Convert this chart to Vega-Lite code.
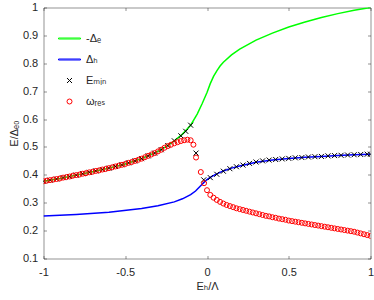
{
  "$schema": "https://vega.github.io/schema/vega-lite/v6.json",
  "width": 327,
  "height": 251,
  "autosize": "none",
  "padding": {"left": 43.5, "top": 7.5, "right": 3.5, "bottom": 41.5},
  "config": {
    "font": "Liberation Sans, DejaVu Sans",
    "view": {"stroke": null},
    "axis": {
      "domainColor": "#262626",
      "domainWidth": 0.5,
      "tickColor": "#262626",
      "tickWidth": 0.5,
      "tickSize": -3,
      "grid": false,
      "labelColor": "#262626",
      "labelFontSize": 11,
      "labelFont": "Liberation Sans, DejaVu Sans",
      "titleColor": "#262626",
      "titleFontSize": 11,
      "titleFontWeight": "normal",
      "titleFont": "Liberation Sans, DejaVu Sans"
    },
    "legend": {
      "orient": "none",
      "legendX": 20.5,
      "legendY": 25.5,
      "padding": 0,
      "symbolSize": 25,
      "symbolStrokeWidth": 1,
      "labelFontSize": 11,
      "labelFont": "Liberation Sans, DejaVu Sans",
      "labelColor": "#262626",
      "labelOffset": 11,
      "rowPadding": 9,
      "title": null
    }
  },
  "datasets": {
    "curves": [
      {"series": "-Δₑ", "x": -1, "y": 0.377},
      {"series": "-Δₑ", "x": -0.9, "y": 0.387},
      {"series": "-Δₑ", "x": -0.8, "y": 0.399},
      {"series": "-Δₑ", "x": -0.7, "y": 0.411},
      {"series": "-Δₑ", "x": -0.6, "y": 0.424},
      {"series": "-Δₑ", "x": -0.5, "y": 0.439},
      {"series": "-Δₑ", "x": -0.4, "y": 0.458},
      {"series": "-Δₑ", "x": -0.3, "y": 0.484},
      {"series": "-Δₑ", "x": -0.25, "y": 0.501},
      {"series": "-Δₑ", "x": -0.2, "y": 0.522},
      {"series": "-Δₑ", "x": -0.15, "y": 0.546},
      {"series": "-Δₑ", "x": -0.1, "y": 0.578},
      {"series": "-Δₑ", "x": -0.06, "y": 0.618},
      {"series": "-Δₑ", "x": -0.03, "y": 0.655},
      {"series": "-Δₑ", "x": 0, "y": 0.695},
      {"series": "-Δₑ", "x": 0.02, "y": 0.727},
      {"series": "-Δₑ", "x": 0.04, "y": 0.753},
      {"series": "-Δₑ", "x": 0.06, "y": 0.773},
      {"series": "-Δₑ", "x": 0.08, "y": 0.79},
      {"series": "-Δₑ", "x": 0.1, "y": 0.804},
      {"series": "-Δₑ", "x": 0.15, "y": 0.83},
      {"series": "-Δₑ", "x": 0.2, "y": 0.851},
      {"series": "-Δₑ", "x": 0.3, "y": 0.883},
      {"series": "-Δₑ", "x": 0.4, "y": 0.908},
      {"series": "-Δₑ", "x": 0.5, "y": 0.93},
      {"series": "-Δₑ", "x": 0.6, "y": 0.948},
      {"series": "-Δₑ", "x": 0.7, "y": 0.964},
      {"series": "-Δₑ", "x": 0.8, "y": 0.978},
      {"series": "-Δₑ", "x": 0.9, "y": 0.99},
      {"series": "-Δₑ", "x": 1, "y": 1.0},
      {"series": "Δₕ", "x": -1, "y": 0.252},
      {"series": "Δₕ", "x": -0.8, "y": 0.258},
      {"series": "Δₕ", "x": -0.6, "y": 0.266},
      {"series": "Δₕ", "x": -0.4, "y": 0.279},
      {"series": "Δₕ", "x": -0.3, "y": 0.289},
      {"series": "Δₕ", "x": -0.2, "y": 0.303},
      {"series": "Δₕ", "x": -0.15, "y": 0.314},
      {"series": "Δₕ", "x": -0.1, "y": 0.329},
      {"series": "Δₕ", "x": -0.07, "y": 0.342},
      {"series": "Δₕ", "x": -0.04, "y": 0.36},
      {"series": "Δₕ", "x": -0.02, "y": 0.372},
      {"series": "Δₕ", "x": 0, "y": 0.383},
      {"series": "Δₕ", "x": 0.02, "y": 0.391},
      {"series": "Δₕ", "x": 0.05, "y": 0.401},
      {"series": "Δₕ", "x": 0.1, "y": 0.414},
      {"series": "Δₕ", "x": 0.15, "y": 0.424},
      {"series": "Δₕ", "x": 0.2, "y": 0.432},
      {"series": "Δₕ", "x": 0.3, "y": 0.445},
      {"series": "Δₕ", "x": 0.4, "y": 0.453},
      {"series": "Δₕ", "x": 0.5, "y": 0.459},
      {"series": "Δₕ", "x": 0.6, "y": 0.463},
      {"series": "Δₕ", "x": 0.7, "y": 0.466},
      {"series": "Δₕ", "x": 0.8, "y": 0.469},
      {"series": "Δₕ", "x": 0.9, "y": 0.472},
      {"series": "Δₕ", "x": 1, "y": 0.474}
    ],
    "markers": [
      {"series": "Eₘᵢₙ", "x": -1, "y": 0.377},
      {"series": "Eₘᵢₙ", "x": -0.96, "y": 0.381},
      {"series": "Eₘᵢₙ", "x": -0.92, "y": 0.385},
      {"series": "Eₘᵢₙ", "x": -0.88, "y": 0.39},
      {"series": "Eₘᵢₙ", "x": -0.84, "y": 0.394},
      {"series": "Eₘᵢₙ", "x": -0.8, "y": 0.399},
      {"series": "Eₘᵢₙ", "x": -0.76, "y": 0.404},
      {"series": "Eₘᵢₙ", "x": -0.72, "y": 0.409},
      {"series": "Eₘᵢₙ", "x": -0.68, "y": 0.414},
      {"series": "Eₘᵢₙ", "x": -0.64, "y": 0.419},
      {"series": "Eₘᵢₙ", "x": -0.6, "y": 0.424},
      {"series": "Eₘᵢₙ", "x": -0.56, "y": 0.43},
      {"series": "Eₘᵢₙ", "x": -0.52, "y": 0.436},
      {"series": "Eₘᵢₙ", "x": -0.48, "y": 0.443},
      {"series": "Eₘᵢₙ", "x": -0.44, "y": 0.45},
      {"series": "Eₘᵢₙ", "x": -0.4, "y": 0.458},
      {"series": "Eₘᵢₙ", "x": -0.36, "y": 0.468},
      {"series": "Eₘᵢₙ", "x": -0.32, "y": 0.478},
      {"series": "Eₘᵢₙ", "x": -0.28, "y": 0.49},
      {"series": "Eₘᵢₙ", "x": -0.24, "y": 0.505},
      {"series": "Eₘᵢₙ", "x": -0.2, "y": 0.522},
      {"series": "Eₘᵢₙ", "x": -0.16, "y": 0.54},
      {"series": "Eₘᵢₙ", "x": -0.13, "y": 0.556},
      {"series": "Eₘᵢₙ", "x": -0.1, "y": 0.578},
      {"series": "Eₘᵢₙ", "x": -0.067, "y": 0.478},
      {"series": "Eₘᵢₙ", "x": -0.02, "y": 0.382},
      {"series": "Eₘᵢₙ", "x": 0.02, "y": 0.39},
      {"series": "Eₘᵢₙ", "x": 0.06, "y": 0.402},
      {"series": "Eₘᵢₙ", "x": 0.1, "y": 0.413},
      {"series": "Eₘᵢₙ", "x": 0.14, "y": 0.422},
      {"series": "Eₘᵢₙ", "x": 0.18, "y": 0.429},
      {"series": "Eₘᵢₙ", "x": 0.22, "y": 0.435},
      {"series": "Eₘᵢₙ", "x": 0.26, "y": 0.441},
      {"series": "Eₘᵢₙ", "x": 0.3, "y": 0.446},
      {"series": "Eₘᵢₙ", "x": 0.34, "y": 0.45},
      {"series": "Eₘᵢₙ", "x": 0.38, "y": 0.453},
      {"series": "Eₘᵢₙ", "x": 0.42, "y": 0.455},
      {"series": "Eₘᵢₙ", "x": 0.46, "y": 0.457},
      {"series": "Eₘᵢₙ", "x": 0.5, "y": 0.459},
      {"series": "Eₘᵢₙ", "x": 0.54, "y": 0.461},
      {"series": "Eₘᵢₙ", "x": 0.58, "y": 0.462},
      {"series": "Eₘᵢₙ", "x": 0.62, "y": 0.464},
      {"series": "Eₘᵢₙ", "x": 0.66, "y": 0.465},
      {"series": "Eₘᵢₙ", "x": 0.7, "y": 0.466},
      {"series": "Eₘᵢₙ", "x": 0.74, "y": 0.468},
      {"series": "Eₘᵢₙ", "x": 0.78, "y": 0.469},
      {"series": "Eₘᵢₙ", "x": 0.82, "y": 0.47},
      {"series": "Eₘᵢₙ", "x": 0.86, "y": 0.471},
      {"series": "Eₘᵢₙ", "x": 0.9, "y": 0.472},
      {"series": "Eₘᵢₙ", "x": 0.94, "y": 0.473},
      {"series": "Eₘᵢₙ", "x": 0.98, "y": 0.474},
      {"series": "Eₘᵢₙ", "x": 1, "y": 0.474},
      {"series": "ωᵣₑₛ", "x": -1, "y": 0.377},
      {"series": "ωᵣₑₛ", "x": -0.98, "y": 0.379},
      {"series": "ωᵣₑₛ", "x": -0.96, "y": 0.381},
      {"series": "ωᵣₑₛ", "x": -0.94, "y": 0.383},
      {"series": "ωᵣₑₛ", "x": -0.92, "y": 0.385},
      {"series": "ωᵣₑₛ", "x": -0.9, "y": 0.387},
      {"series": "ωᵣₑₛ", "x": -0.88, "y": 0.39},
      {"series": "ωᵣₑₛ", "x": -0.86, "y": 0.392},
      {"series": "ωᵣₑₛ", "x": -0.84, "y": 0.394},
      {"series": "ωᵣₑₛ", "x": -0.82, "y": 0.397},
      {"series": "ωᵣₑₛ", "x": -0.8, "y": 0.399},
      {"series": "ωᵣₑₛ", "x": -0.78, "y": 0.401},
      {"series": "ωᵣₑₛ", "x": -0.76, "y": 0.404},
      {"series": "ωᵣₑₛ", "x": -0.74, "y": 0.406},
      {"series": "ωᵣₑₛ", "x": -0.72, "y": 0.409},
      {"series": "ωᵣₑₛ", "x": -0.7, "y": 0.411},
      {"series": "ωᵣₑₛ", "x": -0.68, "y": 0.414},
      {"series": "ωᵣₑₛ", "x": -0.66, "y": 0.416},
      {"series": "ωᵣₑₛ", "x": -0.64, "y": 0.419},
      {"series": "ωᵣₑₛ", "x": -0.62, "y": 0.421},
      {"series": "ωᵣₑₛ", "x": -0.6, "y": 0.424},
      {"series": "ωᵣₑₛ", "x": -0.58, "y": 0.427},
      {"series": "ωᵣₑₛ", "x": -0.56, "y": 0.43},
      {"series": "ωᵣₑₛ", "x": -0.54, "y": 0.433},
      {"series": "ωᵣₑₛ", "x": -0.52, "y": 0.436},
      {"series": "ωᵣₑₛ", "x": -0.5, "y": 0.439},
      {"series": "ωᵣₑₛ", "x": -0.48, "y": 0.443},
      {"series": "ωᵣₑₛ", "x": -0.46, "y": 0.446},
      {"series": "ωᵣₑₛ", "x": -0.44, "y": 0.45},
      {"series": "ωᵣₑₛ", "x": -0.42, "y": 0.454},
      {"series": "ωᵣₑₛ", "x": -0.4, "y": 0.458},
      {"series": "ωᵣₑₛ", "x": -0.38, "y": 0.463},
      {"series": "ωᵣₑₛ", "x": -0.36, "y": 0.468},
      {"series": "ωᵣₑₛ", "x": -0.34, "y": 0.473},
      {"series": "ωᵣₑₛ", "x": -0.32, "y": 0.478},
      {"series": "ωᵣₑₛ", "x": -0.3, "y": 0.484},
      {"series": "ωᵣₑₛ", "x": -0.28, "y": 0.49},
      {"series": "ωᵣₑₛ", "x": -0.26, "y": 0.497},
      {"series": "ωᵣₑₛ", "x": -0.24, "y": 0.503},
      {"series": "ωᵣₑₛ", "x": -0.22, "y": 0.508},
      {"series": "ωᵣₑₛ", "x": -0.2, "y": 0.513},
      {"series": "ωᵣₑₛ", "x": -0.18, "y": 0.517},
      {"series": "ωᵣₑₛ", "x": -0.16, "y": 0.521},
      {"series": "ωᵣₑₛ", "x": -0.14, "y": 0.524},
      {"series": "ωᵣₑₛ", "x": -0.12, "y": 0.526},
      {"series": "ωᵣₑₛ", "x": -0.1, "y": 0.524},
      {"series": "ωᵣₑₛ", "x": -0.083, "y": 0.508},
      {"series": "ωᵣₑₛ", "x": -0.067, "y": 0.462},
      {"series": "ωᵣₑₛ", "x": -0.038, "y": 0.41},
      {"series": "ωᵣₑₛ", "x": -0.018, "y": 0.37},
      {"series": "ωᵣₑₛ", "x": 0, "y": 0.345},
      {"series": "ωᵣₑₛ", "x": 0.02, "y": 0.328},
      {"series": "ωᵣₑₛ", "x": 0.04, "y": 0.318},
      {"series": "ωᵣₑₛ", "x": 0.06, "y": 0.31},
      {"series": "ωᵣₑₛ", "x": 0.08, "y": 0.303},
      {"series": "ωᵣₑₛ", "x": 0.1, "y": 0.297},
      {"series": "ωᵣₑₛ", "x": 0.12, "y": 0.292},
      {"series": "ωᵣₑₛ", "x": 0.14, "y": 0.288},
      {"series": "ωᵣₑₛ", "x": 0.16, "y": 0.284},
      {"series": "ωᵣₑₛ", "x": 0.18, "y": 0.28},
      {"series": "ωᵣₑₛ", "x": 0.2, "y": 0.277},
      {"series": "ωᵣₑₛ", "x": 0.22, "y": 0.274},
      {"series": "ωᵣₑₛ", "x": 0.24, "y": 0.271},
      {"series": "ωᵣₑₛ", "x": 0.26, "y": 0.268},
      {"series": "ωᵣₑₛ", "x": 0.28, "y": 0.265},
      {"series": "ωᵣₑₛ", "x": 0.3, "y": 0.262},
      {"series": "ωᵣₑₛ", "x": 0.32, "y": 0.259},
      {"series": "ωᵣₑₛ", "x": 0.34, "y": 0.256},
      {"series": "ωᵣₑₛ", "x": 0.36, "y": 0.253},
      {"series": "ωᵣₑₛ", "x": 0.38, "y": 0.251},
      {"series": "ωᵣₑₛ", "x": 0.4, "y": 0.248},
      {"series": "ωᵣₑₛ", "x": 0.42, "y": 0.246},
      {"series": "ωᵣₑₛ", "x": 0.44, "y": 0.243},
      {"series": "ωᵣₑₛ", "x": 0.46, "y": 0.241},
      {"series": "ωᵣₑₛ", "x": 0.48, "y": 0.239},
      {"series": "ωᵣₑₛ", "x": 0.5, "y": 0.236},
      {"series": "ωᵣₑₛ", "x": 0.52, "y": 0.234},
      {"series": "ωᵣₑₛ", "x": 0.54, "y": 0.232},
      {"series": "ωᵣₑₛ", "x": 0.56, "y": 0.23},
      {"series": "ωᵣₑₛ", "x": 0.58, "y": 0.228},
      {"series": "ωᵣₑₛ", "x": 0.6, "y": 0.226},
      {"series": "ωᵣₑₛ", "x": 0.62, "y": 0.224},
      {"series": "ωᵣₑₛ", "x": 0.64, "y": 0.222},
      {"series": "ωᵣₑₛ", "x": 0.66, "y": 0.22},
      {"series": "ωᵣₑₛ", "x": 0.68, "y": 0.218},
      {"series": "ωᵣₑₛ", "x": 0.7, "y": 0.216},
      {"series": "ωᵣₑₛ", "x": 0.72, "y": 0.214},
      {"series": "ωᵣₑₛ", "x": 0.74, "y": 0.212},
      {"series": "ωᵣₑₛ", "x": 0.76, "y": 0.21},
      {"series": "ωᵣₑₛ", "x": 0.78, "y": 0.208},
      {"series": "ωᵣₑₛ", "x": 0.8, "y": 0.206},
      {"series": "ωᵣₑₛ", "x": 0.82, "y": 0.204},
      {"series": "ωᵣₑₛ", "x": 0.84, "y": 0.202},
      {"series": "ωᵣₑₛ", "x": 0.86, "y": 0.2},
      {"series": "ωᵣₑₛ", "x": 0.88, "y": 0.198},
      {"series": "ωᵣₑₛ", "x": 0.9, "y": 0.196},
      {"series": "ωᵣₑₛ", "x": 0.92, "y": 0.193},
      {"series": "ωᵣₑₛ", "x": 0.94, "y": 0.19},
      {"series": "ωᵣₑₛ", "x": 0.96, "y": 0.187},
      {"series": "ωᵣₑₛ", "x": 0.98, "y": 0.184},
      {"series": "ωᵣₑₛ", "x": 1, "y": 0.181}
    ]
  },
  "layer": [
    {
      "data": {"name": "curves"},
      "mark": {"type": "line", "strokeWidth": 1.5, "clip": true},
      "encoding": {
        "x": {
          "field": "x", "type": "quantitative",
          "scale": {"domain": [-1, 1], "nice": false, "zero": false},
          "axis": {
            "orient": "bottom",
            "values": [-1, -0.5, 0, 0.5, 1],
            "labelExpr": "datum.value < 0 ? '-' + toString(-datum.value) : toString(datum.value)",
            "labelPadding": 10.5,
            "title": "Eₕ/Λ",
            "titlePadding": 3,
            "labelFlush": false
          }
        },
        "y": {
          "field": "y", "type": "quantitative",
          "scale": {"domain": [0.1, 1], "nice": false, "zero": false},
          "axis": {
            "orient": "left",
            "values": [0.1, 0.2, 0.3, 0.4, 0.5, 0.6, 0.7, 0.8, 0.9, 1],
            "labelExpr": "toString(datum.value)",
            "labelPadding": 8.8,
            "title": "E/Δₑ₀",
            "titlePadding": 3,
            "labelFlush": false
          }
        },
        "detail": {"field": "series", "type": "nominal"},
        "color": {
          "condition": {"test": "datum.series === 'Δₕ'", "value": "#0000ff"},
          "value": "#00ff00"
        }
      }
    },
    {
      "data": {"name": "markers"},
      "mark": {"type": "point", "filled": false, "size": 25, "strokeWidth": 1, "opacity": 1, "clip": true},
      "encoding": {
        "x": {
          "field": "x", "type": "quantitative",
          "axis": {
            "orient": "top",
            "values": [-1, -0.5, 0, 0.5, 1],
            "labels": false,
            "title": null
          }
        },
        "y": {
          "field": "y", "type": "quantitative",
          "axis": {
            "orient": "right",
            "values": [0.1, 0.2, 0.3, 0.4, 0.5, 0.6, 0.7, 0.8, 0.9, 1],
            "labels": false,
            "title": null
          }
        },
        "color": {
          "field": "series", "type": "nominal",
          "scale": {
            "domain": ["-Δₑ", "Δₕ", "Eₘᵢₙ", "ωᵣₑₛ"],
            "range": ["#00ff00", "#0000ff", "#000000", "#ff0000"]
          }
        },
        "shape": {
          "field": "series", "type": "nominal",
          "scale": {
            "domain": ["-Δₑ", "Δₕ", "Eₘᵢₙ", "ωᵣₑₛ"],
            "range": [
              "M-4.4,-0.2L4.4,-0.2L4.4,0.2L-4.4,0.2Z",
              "M-4.4,-0.2L4.4,-0.2L4.4,0.2L-4.4,0.2Z",
              "M-1,-1L1,1M1,-1L-1,1",
              "circle"
            ]
          }
        }
      }
    }
  ],
  "resolve": {"axis": {"x": "independent", "y": "independent"}}
}
